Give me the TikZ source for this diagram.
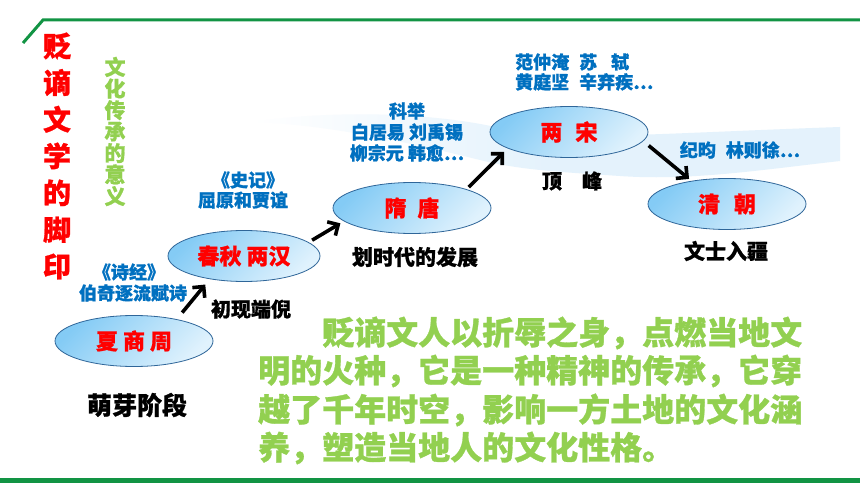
\documentclass[tikz,border=0pt]{standalone}
\usepackage{fontspec}
\setmainfont{Noto Sans CJK SC}[BoldFeatures={FakeBold=0.9}]
\usetikzlibrary{shapes.geometric,arrows.meta}
\definecolor{gline}{RGB}{18,148,68}
\definecolor{lgreen}{HTML}{92D050}
\definecolor{tblue}{HTML}{0070C0}
\definecolor{ellborder}{HTML}{2F6699}
\definecolor{ellA}{HTML}{84CBF5}
\definecolor{ellB}{HTML}{E0F2FD}
\definecolor{swoosh}{HTML}{E4F2FC}
\begin{document}
\begin{tikzpicture}[x=1pt,y=-1pt,
  ell/.style={ellipse, draw=ellborder, line width=0.8pt, top color=ellA, bottom color=ellB, shading angle=45,
    minimum width=158pt, minimum height=51pt, inner sep=0pt, text=red, font=\fontsize{22}{26}\selectfont\bfseries},
  bluetxt/.style={text=tblue, font=\fontsize{18}{21}\selectfont\bfseries, inner sep=0pt, align=center},
  lbl/.style={text=black, font=\fontsize{21}{25}\selectfont\bfseries, inner sep=0pt},
  para/.style={text=lgreen, font=\fontsize{32}{38}\selectfont\bfseries, inner sep=0pt, anchor=west},
  arr/.style={line width=3.6pt, -{Straight Barb[length=8pt,width=16pt]}}
]
\useasboundingbox (0,0) rectangle (860,484);
\fill[white] (0,0) rectangle (860,484);
% background ribbon
\shade[left color=white, right color=swoosh, middle color=swoosh] (252,122) .. controls (330,110) and (430,112) .. (500,128)
  .. controls (560,142) and (640,134) .. (840,127) -- (840,161)
  .. controls (760,170) and (690,181) .. (620,176)
  .. controls (560,172) and (520,170) .. (480,160)
  .. controls (400,140) and (320,124) .. (252,122) -- cycle;
% frame lines
\draw[gline, line width=3pt] (23,43) -- (43,20) -- (860,20);
\fill[gline] (0,478) rectangle (860,482.5);
% ellipses
\node[ell] (xsz) at (134,341) {夏\hspace{5pt}商\hspace{5pt}周};
\node[ell, minimum width=152pt] (cq) at (244,256) {春秋\hspace{5pt}两汉};
\node[ell] (st) at (412,208) {隋\hspace{11pt}唐};
\node[ell] (ls) at (569,132) {两\hspace{13pt}宋};
\node[ell] (qc) at (727,204) {清\hspace{14pt}朝};
% arrows
\draw[arr, shorten <=8.5pt, shorten >=7pt] (xsz.27) -- (cq.214);
\draw[arr, shorten <=4pt, shorten >=4pt] (cq.12) -- (st.191);
\draw[arr, shorten <=3pt, shorten >=5pt] (st.19) -- (ls.195);
\draw[arr, shorten <=7pt, shorten >=3pt] (ls.353.5) -- (qc.147);
% titles
\node[text=red, font=\fontsize{28}{36.7}\selectfont\bfseries, align=center, inner sep=0pt] (title) at (57,156) {贬\\谪\\文\\学\\的\\脚\\印};
\node[text=lgreen, font=\fontsize{21}{21.5}\selectfont\bfseries, align=center, inner sep=0pt] (meaning) at (115,131.5) {文\\化\\传\\承\\的\\意\\义};
% blue notes
\node[bluetxt] (shijing) at (129,272) {《诗经》};
\node[bluetxt] (boqi) at (133,293) {伯奇逐流赋诗};
\node[bluetxt] (shiji) at (248,180) {《史记》};
\node[bluetxt] (quyuan) at (243,200) {屈原和贾谊};
\node[bluetxt] (keju) at (407,132) {科举\\白居易 刘禹锡\\柳宗元 韩愈…};
\node[bluetxt, align=left, anchor=west, font=\fontsize{18}{20}\selectfont\bfseries] (song) at (515,72) {范仲淹\hspace{10pt}苏\hspace{14pt}轼\\黄庭坚\hspace{10pt}辛弃疾…};
\node[bluetxt] (jiyun) at (740,150) {纪昀\hspace{10pt}林则徐…};
% black labels
\node[lbl, font=\fontsize{25}{30}\selectfont\bfseries] (mengya) at (137,405) {萌芽阶段};
\node[lbl, font=\fontsize{20}{24}\selectfont\bfseries] (chuxian) at (251,309) {初现端倪};
\node[lbl] (huashidai) at (415,257) {划时代的发展};
\node[lbl, font=\fontsize{20}{24}\selectfont\bfseries] (dingfeng) at (572,181) {顶　峰};
\node[lbl] (wenshi) at (726,251) {文士入疆};
% paragraph
\node[para] (p1) at (322,333) {贬谪文人以折辱之身，点燃当地文};
\node[para] (p2) at (258,371) {明的火种，它是一种精神的传承，它穿};
\node[para] (p3) at (258,410) {越了千年时空，影响一方土地的文化涵};
\node[para] (p4) at (258,448) {养，塑造当地人的文化性格。};
\end{tikzpicture}
\end{document}
